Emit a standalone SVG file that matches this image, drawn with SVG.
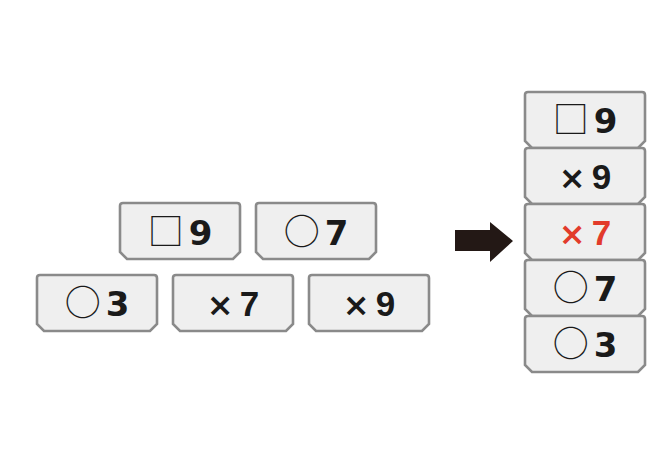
<svg xmlns="http://www.w3.org/2000/svg" width="663" height="465" viewBox="0 0 663 465">
<style>
.card{fill:#efefef;stroke:#8a8a8a;stroke-width:2.6}
.t{font-family:"DejaVu Sans","Liberation Sans",sans-serif;font-size:34px;font-weight:bold;fill:#1a1a1a;text-anchor:middle}
.m{font-family:"Liberation Sans",sans-serif;font-size:35px}
.s{font-family:"Noto Sans CJK JP",sans-serif;font-weight:normal;font-size:36px}
.x{font-family:"DejaVu Sans",sans-serif;font-weight:bold;font-size:32px}
.red{fill:#e23b2b}
</style>
<defs>
<path id="c" class="card" d="M3,0 H117 Q120,0 120,3 V49 L113,56 H7 L0,49 V3 Q0,0 3,0 Z"/>
</defs>
<g id="n1"><use href="#c" x="120" y="203"/><text class="t" x="180" y="245"><tspan class="s">□</tspan><tspan dx="5">9</tspan></text></g>
<g id="n2"><use href="#c" x="256" y="203"/><text class="t" x="316" y="245"><tspan class="s">○</tspan><tspan dx="5">7</tspan></text></g>
<g id="n3"><use href="#c" x="37" y="275"/><text class="t" x="97" y="316"><tspan class="s">○</tspan><tspan dx="5">3</tspan></text></g>
<g id="n4"><use href="#c" x="173" y="275"/><text class="t m" x="233" y="316"><tspan class="x">×</tspan><tspan dx="6">7</tspan></text></g>
<g id="n5"><use href="#c" x="309" y="275"/><text class="t m" x="369" y="316"><tspan class="x">×</tspan><tspan dx="6">9</tspan></text></g>
<g id="r1"><use href="#c" x="525" y="92"/><text class="t" x="585" y="133"><tspan class="s">□</tspan><tspan dx="5">9</tspan></text></g>
<g id="r2"><use href="#c" x="525" y="148"/><text class="t m" x="585" y="189"><tspan class="x">×</tspan><tspan dx="6">9</tspan></text></g>
<g id="r3"><use href="#c" x="525" y="204"/><text class="t m red" x="585" y="245"><tspan class="x">×</tspan><tspan dx="6">7</tspan></text></g>
<g id="r4"><use href="#c" x="525" y="260"/><text class="t" x="585" y="301"><tspan class="s">○</tspan><tspan dx="5">7</tspan></text></g>
<g id="r5"><use href="#c" x="525" y="316"/><text class="t" x="585" y="357"><tspan class="s">○</tspan><tspan dx="5">3</tspan></text></g>
<g id="connectors">
<path d="M455,230 H490 V222 L513,241 L490,262 V251 H455 Z" fill="#231815"/>
</g>
</svg>
